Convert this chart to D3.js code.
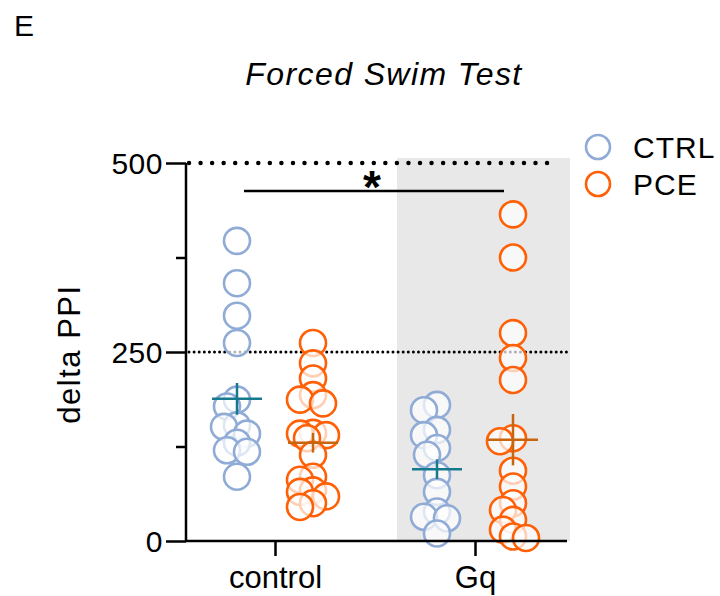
<!DOCTYPE html>
<html>
<head>
<meta charset="utf-8">
<script src="https://cdn.jsdelivr.net/npm/d3@7"></script>
<style>
  body { margin: 0; background: #fff; }
  svg { font-family: "Liberation Sans", Arial, sans-serif; }
</style>
</head>
<body>
<svg id="chart" width="720" height="596"></svg>
<script>
// groups and series
const groups = ["control", "Gq"];
const series = ["CTRL", "PCE"];

// individual values
const ctrlControl = [397, 341, 298, 262, 187, 178, 153, 151, 142, 130, 120, 118, 85];
const pceControl = [262, 235, 215, 193, 187, 182, 143, 142, 140, 136, 114, 85, 81, 67, 65, 59, 50, 45];
const ctrlGq = [180, 173, 147, 140, 123, 114, 87, 65, 39, 32, 30, 10];
const pceGq = [432, 375, 275, 242, 213, 136, 132, 93, 72, 50, 41, 28, 15, 6, 4];

// mean and SEM per group (control, Gq)
const meanCTRL = [188, 95];
const semCTRL = [21, 13];
const meanPCE = [130, 134];
const semPCE = [13, 34];

const yTicks = [0, 250, 500];
const yMinorTicks = [125, 375];

const colors = { CTRL: "#8fabd6", PCE: "#ff5f05" };
const meanColors = { CTRL: "#16798d", PCE: "#c8650f" };

const svg = d3.select("#chart");
const margin = { left: 186 };
const plotRight = 570;

const y = d3.scaleLinear().domain([0, 500]).range([541, 163]);
const x = d3.scaleBand().domain(groups).range([175, 575]);
const xs = d3.scalePoint().domain(series).range([-38, 38]);
const gx = g => x(g) + x.bandwidth() / 2;
const cx = (g, s) => gx(g) + xs(s);

// shaded Gq region
svg.append("rect")
  .attr("x", x("Gq") + 22)
  .attr("y", y(500) - 5)
  .attr("width", plotRight - x("Gq") - 22)
  .attr("height", y(0) - y(500) + 5)
  .attr("fill", "#e8e8e8");

// dotted reference lines
svg.append("line")
  .attr("x1", margin.left + 3).attr("x2", 557)
  .attr("y1", y(500)).attr("y2", y(500))
  .attr("stroke", "#000").attr("stroke-width", 4.5)
  .attr("stroke-linecap", "round").attr("stroke-dasharray", "0,11.55");
svg.append("line")
  .attr("x1", margin.left + 3).attr("x2", plotRight)
  .attr("y1", y(250)).attr("y2", y(250))
  .attr("stroke", "#000").attr("stroke-width", 3)
  .attr("stroke-linecap", "round").attr("stroke-dasharray", "0,5.1");

// simple deterministic beeswarm (overlap allowed, like Prism)
function swarm(values, center) {
  const placed = [];
  const offsets = [0, -6, 6, -10, 10, -13, 13];
  values.slice().sort((a, b) => b - a).forEach(v => {
    const py = y(v);
    let best = null, bestD = -1;
    for (const o of offsets) {
      const px = center + o;
      let d = Infinity;
      placed.forEach(p => { d = Math.min(d, Math.hypot(p.x - px, p.y - py)); });
      if (d >= 12) { best = px; bestD = d; break; }
      if (d > bestD) { bestD = d; best = px; }
    }
    placed.push({ x: best, y: py, v });
  });
  return placed;
}

const sets = [
  { g: "control", s: "CTRL", vals: ctrlControl },
  { g: "control", s: "PCE", vals: pceControl },
  { g: "Gq", s: "CTRL", vals: ctrlGq },
  { g: "Gq", s: "PCE", vals: pceGq }
];

sets.forEach(set => {
  const pts = swarm(set.vals, cx(set.g, set.s));
  svg.append("g").selectAll("circle")
    .data(pts)
    .join("circle")
    .attr("cx", d => d.x)
    .attr("cy", d => d.y)
    .attr("r", 13)
    .attr("fill", "#fff")
    .attr("fill-opacity", 0.7)
    .attr("stroke", colors[set.s])
    .attr("stroke-width", 2.6);
});

// mean +/- SEM crosses
const summary = [];
groups.forEach((g, i) => {
  summary.push({ g, s: "CTRL", m: meanCTRL[i], e: semCTRL[i] });
  summary.push({ g, s: "PCE", m: meanPCE[i], e: semPCE[i] });
});
const cross = svg.append("g").selectAll("g").data(summary).join("g");
cross.append("line")
  .attr("x1", d => cx(d.g, d.s) - 25).attr("x2", d => cx(d.g, d.s) + 25)
  .attr("y1", d => y(d.m)).attr("y2", d => y(d.m))
  .attr("stroke", d => meanColors[d.s]).attr("stroke-width", 2.5);
cross.append("line")
  .attr("x1", d => cx(d.g, d.s)).attr("x2", d => cx(d.g, d.s))
  .attr("y1", d => y(d.m + d.e)).attr("y2", d => y(d.m - d.e))
  .attr("stroke", d => meanColors[d.s]).attr("stroke-width", 2.5);

// axes
const yAxisMinorG = svg.append("g").attr("transform", `translate(${margin.left},0)`)
  .call(d3.axisLeft(y).tickValues(yMinorTicks).tickFormat("").tickSize(10));
const yAxisG = svg.append("g").attr("transform", `translate(${margin.left},0)`)
  .call(d3.axisLeft(y).tickValues(yTicks).tickSize(20).tickPadding(3));
yAxisG.select(".domain").attr("d", `M0,${y(500)}V${y(0)}`);
yAxisMinorG.select(".domain").remove();

const xAxis = d3.axisBottom(d3.scalePoint().domain(groups).range([gx("control"), gx("Gq")]))
  .tickSize(15).tickPadding(10);
const xAxisG = svg.append("g").attr("transform", `translate(0,${y(0)})`).call(xAxis);
xAxisG.select(".domain").attr("d", `M${margin.left},0H${plotRight - 3}`);

[yAxisG, yAxisMinorG, xAxisG].forEach(g => {
  g.selectAll(".domain, line").attr("stroke", "#000").attr("stroke-width", 2.5);
  g.selectAll("text").attr("fill", "#000").style("font-size", "30px");
});
yAxisG.selectAll(".tick text").attr("dy", "0.36em").style("letter-spacing", "0.5px");
xAxisG.selectAll(".tick text").attr("dy", "0.72em").style("font-size", "31px");

// significance bar
svg.append("line")
  .attr("x1", cx("control", "CTRL") + 7).attr("x2", cx("Gq", "PCE") - 9)
  .attr("y1", 191).attr("y2", 191)
  .attr("stroke", "#000").attr("stroke-width", 2.5);
svg.append("text")
  .attr("x", 372).attr("y", 203)
  .attr("text-anchor", "middle")
  .style("font-size", "46px").style("font-weight", "bold")
  .text("*");

// titles
svg.append("text").attr("x", 14).attr("y", 36).style("font-size", "30px").text("E");
svg.append("text").attr("x", 384).attr("y", 85).attr("text-anchor", "middle")
  .style("font-size", "32px").style("font-style", "italic")
  .style("letter-spacing", "1.4px").text("Forced Swim Test");
svg.append("text")
  .attr("transform", `translate(80,354) rotate(-90)`)
  .attr("text-anchor", "middle")
  .style("font-size", "31px").style("letter-spacing", "1.5px").text("delta PPI");

// legend
const legend = svg.append("g").selectAll("g").data(series).join("g")
  .attr("transform", (d, i) => `translate(598,${147 + i * 37})`);
legend.append("circle").attr("r", 12).attr("fill", "#fff")
  .attr("stroke", d => colors[d]).attr("stroke-width", 2.6);
legend.append("text").attr("x", 35).attr("y", 0).attr("dy", "0.36em")
  .style("font-size", "30px").style("letter-spacing", "1px").text(d => d);
</script>
</body>
</html>
